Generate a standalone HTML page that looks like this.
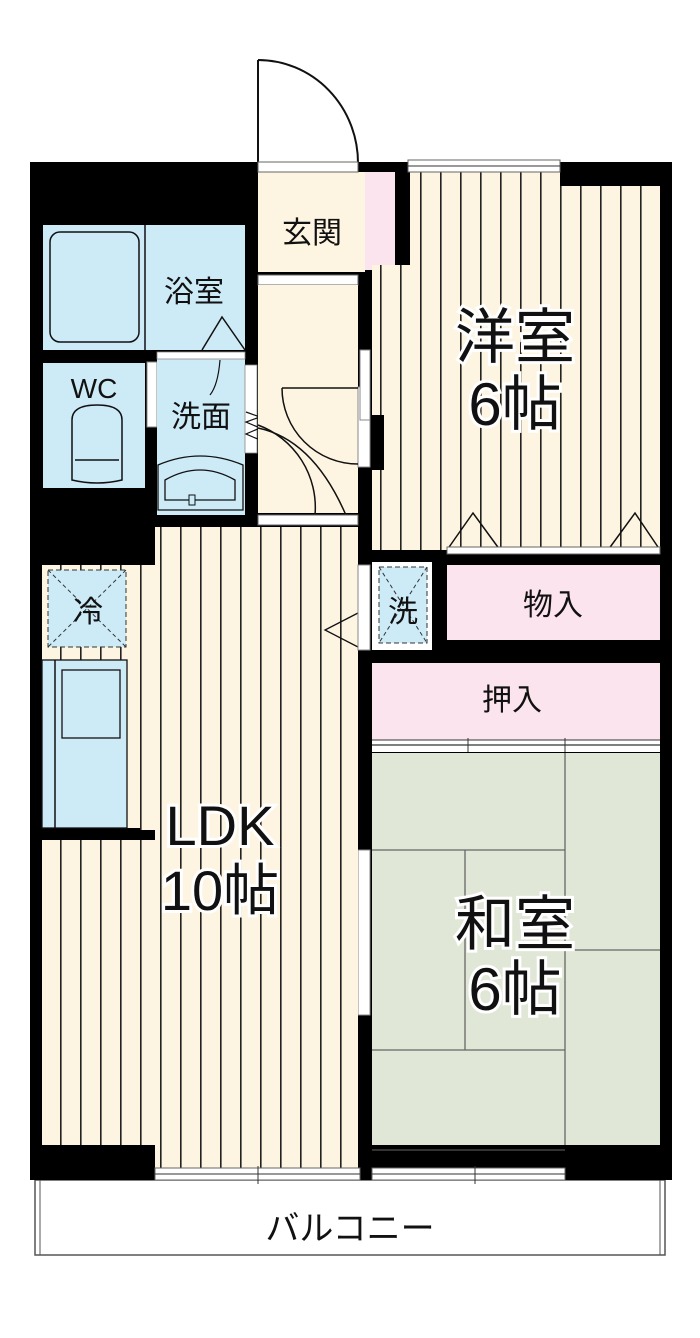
<!DOCTYPE html>
<html><head><meta charset="utf-8"><style>
html,body{margin:0;padding:0;background:#fff;}
svg{display:block}
text{font-family:"Liberation Sans","Noto Sans CJK JP",sans-serif;fill:#111;}
</style></head><body>
<svg width="700" height="1338" viewBox="0 0 700 1338" xmlns="http://www.w3.org/2000/svg">
<defs>
<pattern id="st" width="20" height="10" patternUnits="userSpaceOnUse">
<rect width="20" height="10" fill="#fdf5e2"/><rect x="0" y="0" width="1.6" height="10" fill="#222"/>
</pattern>
</defs>
<path d="M258 60 L258 165 M258 60 A100 103 0 0 1 358 163" fill="none" stroke="#111" stroke-width="2"/>
<rect x="35" y="1180" width="630" height="75" fill="#fff" stroke="#555" stroke-width="1.5"/>
<line x1="40" y1="1180" x2="40" y2="1255" stroke="#555"/><line x1="660" y1="1180" x2="660" y2="1255" stroke="#555"/>
<rect x="30" y="162" width="642" height="1018" fill="#000"/>
<!-- bath -->
<rect x="43" y="225" width="202" height="125" fill="#cdeaf7"/>
<line x1="145" y1="225" x2="145" y2="350" stroke="#111" stroke-width="1.5"/>
<rect x="50" y="232" width="89" height="110" rx="10" fill="#cdeaf7" stroke="#111" stroke-width="1.5"/>
<path d="M202 350 L222 317 L245 350" fill="none" stroke="#111" stroke-width="1.5"/>
<!-- WC -->
<rect x="43" y="363" width="102" height="125" fill="#cdeaf7"/>
<path d="M72 480 L72 420 Q72 405 97 405 Q122 405 122 420 L122 480 Q97 486 72 480 Z" fill="#cdeaf7" stroke="#111" stroke-width="1.5"/>
<line x1="75" y1="460" x2="119" y2="460" stroke="#111" stroke-width="1.5"/>
<rect x="147" y="362" width="10" height="65" fill="#fff" stroke="#888"/>
<!-- washroom -->
<rect x="157" y="355" width="88" height="160" fill="#cdeaf7"/>
<rect x="157" y="352" width="88" height="7" fill="#fff" stroke="#888" stroke-width="0.8"/>
<rect x="245" y="365" width="12" height="88" fill="#fff" stroke="#888" stroke-width="0.8"/>
<path d="M246 412 L260 417 L246 422 L260 428 L246 434 L260 440" fill="none" stroke="#111" stroke-width="1.2"/>
<path d="M220 360 Q218 385 210 395" fill="none" stroke="#111" stroke-width="1.2"/>
<path d="M158 510 L158 465 Q200 447 243 465 L243 510 Z" fill="#cdeaf7" stroke="#111" stroke-width="1.3"/>
<path d="M165 500 L165 480 Q200 460 235 480 L235 500 Z" fill="#cdeaf7" stroke="#111" stroke-width="1.3"/>
<rect x="189" y="495" width="6" height="10" fill="#cdeaf7" stroke="#111"/>
<!-- entrance -->
<rect x="258" y="172" width="107" height="100" fill="#fdf5e2"/>
<rect x="365" y="172" width="30" height="98" fill="#fce4ee"/>
<rect x="258" y="162" width="100" height="10" fill="#fff" stroke="#666"/>
<rect x="258" y="275" width="100" height="10" fill="#fff" stroke="#666"/>
<!-- hall -->
<rect x="258" y="285" width="100" height="228" fill="#fdf5e2"/>
<rect x="358" y="387" width="12" height="80" fill="#fff" stroke="#888"/>
<path d="M282 388 L358 388 M282 388 A76 76 0 0 0 358 464" fill="none" stroke="#111" stroke-width="1.5"/>
<path d="M258 428 Q315 440 348 520" fill="none" stroke="#111" stroke-width="1.5"/>
<path d="M258 425 A88 88 0 0 1 315 515" fill="none" stroke="#111" stroke-width="1.5"/>
<rect x="258" y="515" width="100" height="10" fill="#fff" stroke="#666"/>
<!-- Western room -->
<rect x="410" y="172" width="250" height="378" fill="url(#st)"/>
<rect x="372" y="265" width="40" height="285" fill="url(#st)"/>
<rect x="560" y="172" width="112" height="14" fill="#000"/>
<rect x="408" y="160" width="152" height="12" fill="#fff" stroke="#666"/>
<line x1="408" y1="166" x2="560" y2="166" stroke="#333"/>
<rect x="360" y="350" width="10" height="70" fill="#fff" stroke="#888"/>
<rect x="372" y="415" width="12" height="55" fill="#000"/>
<path d="M447 550 L473 513 L500 550 M608 550 L635 513 L660 550" fill="none" stroke="#111" stroke-width="1.5"/>
<rect x="447" y="547" width="213" height="7" fill="#fff" stroke="#666"/>
<rect x="447" y="565" width="213" height="75" fill="#fce4ee"/>
<rect x="372" y="562" width="60" height="88" fill="#fff"/>
<rect x="379" y="567" width="48" height="76" fill="#cdeaf7" stroke="#333" stroke-dasharray="5 3"/>
<path d="M379 567 L427 643 M427 567 L379 643" stroke="#333" stroke-dasharray="4 3"/>
<rect x="372" y="663" width="288" height="77" fill="#fce4ee"/>
<rect x="372" y="740" width="288" height="12" fill="#fff"/>
<line x1="372" y1="745" x2="660" y2="745" stroke="#333" stroke-width="1.2"/>
<line x1="372" y1="740" x2="660" y2="740" stroke="#333"/>
<line x1="468" y1="738" x2="468" y2="752" stroke="#333"/><line x1="565" y1="738" x2="565" y2="752" stroke="#333"/>
<rect x="372" y="753" width="288" height="392" fill="#e1e7d6"/>
<g stroke="#666" stroke-width="1.3" fill="none">
<line x1="565" y1="753" x2="565" y2="1145"/>
<line x1="372" y1="850" x2="565" y2="850"/>
<line x1="465" y1="850" x2="465" y2="1050"/>
<line x1="565" y1="950" x2="660" y2="950"/>
<line x1="372" y1="1050" x2="565" y2="1050"/>
</g>
<rect x="358" y="850" width="12" height="165" fill="#fff" stroke="#888"/>
<!-- LDK -->
<rect x="155" y="527" width="203" height="641" fill="url(#st)"/>
<rect x="42" y="565" width="116" height="265" fill="url(#st)"/>
<rect x="42" y="840" width="116" height="305" fill="url(#st)"/>
<rect x="30" y="828" width="110" height="12" fill="#000"/>
<rect x="48" y="570" width="78" height="77" fill="#cdeaf7" stroke="#333" stroke-dasharray="5 3"/>
<path d="M48 570 L126 647 M126 570 L48 647" stroke="#333" stroke-dasharray="4 3"/>
<rect x="42" y="660" width="85" height="168" fill="#cdeaf7"/>
<line x1="55" y1="660" x2="55" y2="828" stroke="#111" stroke-width="1.5"/>
<rect x="62" y="670" width="58" height="68" fill="#cdeaf7" stroke="#111" stroke-width="1.3"/>
<rect x="42" y="660" width="85" height="168" fill="none" stroke="#111" stroke-width="1.3"/>
<path d="M358 613 L325 630 L358 647" fill="none" stroke="#111" stroke-width="1.3"/>
<rect x="358" y="565" width="12" height="85" fill="#fff" stroke="#888"/>
<rect x="30" y="1145" width="125" height="35" fill="#000"/>
<rect x="565" y="1145" width="107" height="35" fill="#000"/>
<rect x="155" y="1168" width="205" height="12" fill="#fff" stroke="#666"/>
<line x1="155" y1="1174" x2="360" y2="1174" stroke="#333"/>
<line x1="258" y1="1166" x2="258" y2="1184" stroke="#333"/>
<rect x="372" y="1168" width="193" height="12" fill="#fff" stroke="#666"/>
<line x1="372" y1="1174" x2="565" y2="1174" stroke="#333"/>
<line x1="475" y1="1166" x2="475" y2="1184" stroke="#333"/>
<line x1="372" y1="1150" x2="565" y2="1150" stroke="#666"/>
<!-- labels -->
<text x="312" y="243" font-size="30" text-anchor="middle">玄関</text>
<text x="194" y="302" font-size="30" text-anchor="middle">浴室</text>
<text x="94" y="398" font-size="28" text-anchor="middle">WC</text>
<text x="201" y="427" font-size="30" text-anchor="middle">洗面</text>
<text x="88" y="622" font-size="30" text-anchor="middle">冷</text>
<text x="403" y="622" font-size="30" text-anchor="middle">洗</text>
<text x="553" y="615" font-size="30" text-anchor="middle">物入</text>
<text x="512" y="710" font-size="30" text-anchor="middle">押入</text>
<text x="515" y="358" font-size="60" text-anchor="middle" stroke="#fff" stroke-width="6" paint-order="stroke">洋室</text>
<text x="515" y="425" font-size="60" text-anchor="middle" stroke="#fff" stroke-width="6" paint-order="stroke">6帖</text>
<text x="220" y="845" font-size="56" text-anchor="middle" stroke="#fff" stroke-width="6" paint-order="stroke">LDK</text>
<text x="220" y="910" font-size="56" text-anchor="middle" stroke="#fff" stroke-width="6" paint-order="stroke">10帖</text>
<text x="515" y="945" font-size="60" text-anchor="middle" stroke="#fff" stroke-width="6" paint-order="stroke">和室</text>
<text x="515" y="1010" font-size="60" text-anchor="middle" stroke="#fff" stroke-width="6" paint-order="stroke">6帖</text>
<text x="350" y="1240" font-size="34" text-anchor="middle">バルコニー</text>
</svg>
</body></html>
